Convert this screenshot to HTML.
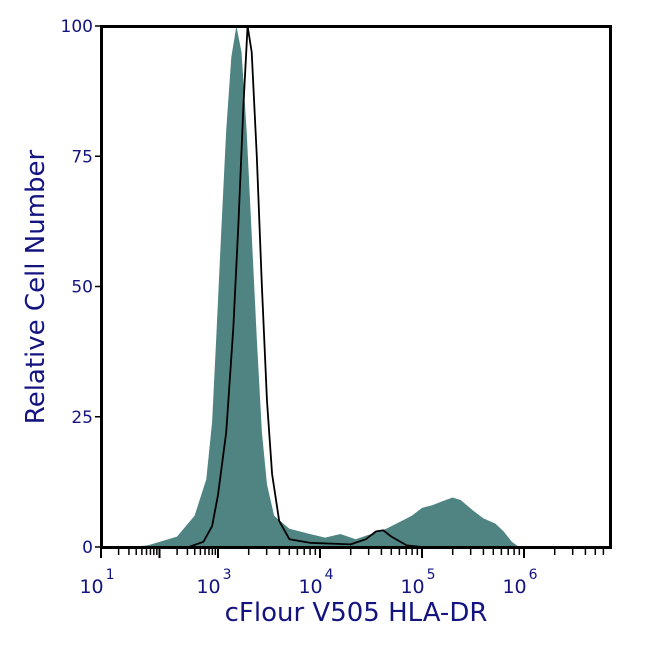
<!DOCTYPE html>
<html><head><meta charset="utf-8"><style>
body{margin:0;background:#fff;}
svg text{font-family:"DejaVu Sans","Liberation Sans",sans-serif;fill:#141480;}
</style></head><body>
<svg id="chart" width="650" height="650" viewBox="0 0 650 650" xmlns="http://www.w3.org/2000/svg">
<g id="marks"></g>
<rect x="101.5" y="26.5" width="509" height="521" fill="none" stroke="#000" stroke-width="3"/>
<g id="axes"></g>
<text x="356" y="621" font-size="26" text-anchor="middle">cFlour V505 HLA-DR</text>
<text transform="translate(44,287) rotate(-90)" font-size="26" text-anchor="middle">Relative Cell Number</text>
</svg>
<script>
const filledLog=[1.5,1.8,2.3,2.6,2.8,2.9,2.97,3.03,3.08,3.13,3.18,3.23,3.28,3.33,3.38,3.43,3.48,3.55,3.7,3.9,4.05,4.2,4.35,4.5,4.65,4.8,4.9,5.0,5.1,5.2,5.3,5.38,5.5,5.6,5.72,5.8,5.88,5.95];
const filledVal=[0,0.3,2,6,13,24,40,60,80,94,100,95,80,60,40,22,12,6,3.5,2.5,1.8,2.5,1.5,2.5,3.5,5,6,7.5,8,8.8,9.5,9,7,5.5,4.5,3,1,0];
const lineLog=[2.5,2.75,2.9,3.0,3.08,3.15,3.2,3.25,3.29,3.33,3.38,3.43,3.48,3.53,3.6,3.7,3.9,4.3,4.45,4.55,4.62,4.7,4.85,5.0];
const lineVal=[0,1,4,10,22,42,62,85,100,95,75,50,28,14,5,1.5,0.8,0.5,1.5,3,3.2,2,0.3,0];
const yTicks=[0,25,50,75,100];
const xDecades=[1,3,4,5,6];
const NS="http://www.w3.org/2000/svg";
function xs(L){return L<3?101+(L-1)*58.5:218+(L-3)*102;}
function ys(v){return 547-v*5.21;}
const marks=document.getElementById('marks'),axes=document.getElementById('axes');
function mk(t,a,p){const e=document.createElementNS(NS,t);for(const k in a)e.setAttribute(k,a[k]);p.appendChild(e);return e;}
let d='M'+xs(filledLog[0])+','+ys(0);
filledLog.forEach((L,i)=>{d+=' L'+xs(L).toFixed(1)+','+ys(filledVal[i]).toFixed(1);});
d+=' L'+xs(filledLog[filledLog.length-1])+','+ys(0)+'Z';
const f=mk('path',{d:d,fill:'#4f8482','stroke-linejoin':'round'},marks);


let d2='';
lineLog.forEach((L,i)=>{d2+=(i?' L':'M')+xs(L).toFixed(1)+','+ys(lineVal[i]).toFixed(1);});
const l=mk('path',{d:d2,fill:'none',stroke:'#000','stroke-width':1.8,'stroke-linejoin':'round'},marks);


yTicks.forEach(v=>{
  mk('line',{x1:95,x2:101,y1:ys(v),y2:ys(v),stroke:'#000','stroke-width':1.5},axes);
  const t=mk('text',{x:93,y:ys(v)+6,'font-size':17,'text-anchor':'end'},axes);
  t.textContent=v;
  
  
});
for(let L=1;L<6.7;L+=1){
  for(let m=1;m<10;m++){
    const LL=L+Math.log10(m);
    const x=xs(LL);
    if(x>610)break;
    mk('line',{x1:x,x2:x,y1:549,y2:m==1?558:555,stroke:'#000','stroke-width':m==1?2:1.5},axes);
  }
}
xDecades.forEach(L=>{
  const g=mk('text',{x:xs(L)-4,y:593,'font-size':19,'text-anchor':'middle'},axes);
  
  
  g.textContent='10';
  const s=mk('tspan',{dx:2,dy:-14,'font-size':14},g);s.textContent=L;
});
</script>
</body></html>
